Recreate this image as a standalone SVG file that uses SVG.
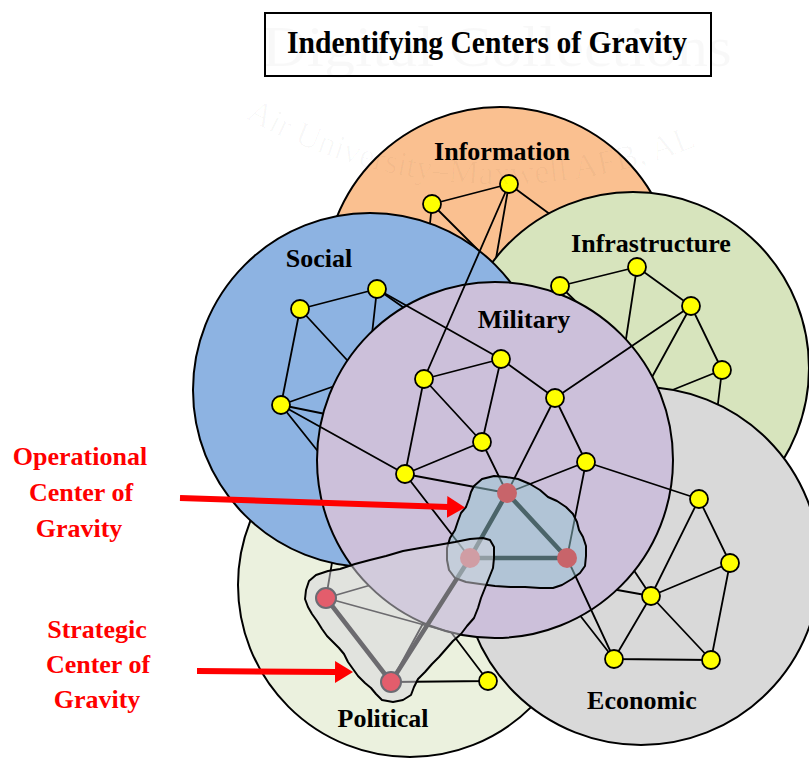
<svg xmlns="http://www.w3.org/2000/svg" width="809" height="760" viewBox="0 0 809 760">
<defs>
<style>
.dom{stroke:#000;stroke-width:2}
.lbl{font-family:"Liberation Serif","Times New Roman",serif;font-weight:bold;font-size:26px;text-anchor:middle;fill:#000}
.red{font-family:"Liberation Serif","Times New Roman",serif;font-weight:bold;font-size:26px;text-anchor:middle;fill:#FF0000}
.e{stroke:#000;stroke-width:1.8;fill:none;stroke-linecap:round}
.thick{stroke:#000;stroke-width:4.5;fill:none;stroke-linecap:round}
.y{fill:#FFFF00;stroke:#000;stroke-width:1.8}
.op{fill:#C8646A}
.st{fill:#E35D6C;stroke:#6B6B73;stroke-width:2}
.arrow{stroke:#FF0000;stroke-width:6;fill:none}
.wm{font-family:"Liberation Serif","Times New Roman",serif;fill:#000;fill-opacity:0.028}
</style>
<marker id="head" markerUnits="userSpaceOnUse" markerWidth="20" markerHeight="24" refX="1" refY="11" orient="auto" viewBox="0 0 20 22"><path d="M0,0 L18,11 L0,22 Z" fill="#FF0000"/></marker>
<path id="wmarc" d="M 245,118 A 522 522 0 0 0 740,126"/>
</defs>
<rect width="809" height="760" fill="#fff"/>

<!-- Information -->
<g id="domain-information">
<circle class="dom" cx="500" cy="283" r="176" fill="#FAC090"/>
<text class="lbl" x="502" y="160">Information</text>
</g>
<g id="connectors-information">
<path class="e" d="M432,204 L509,184 M432,204 L426,262 M432,204 L481,253 M509,184 L494,270 M509,184 L570,229"/>
</g>

<!-- Infrastructure -->
<g id="domain-infrastructure">
<circle class="dom" cx="633" cy="368" r="176" fill="#D7E4BD"/>
<text class="lbl" x="651" y="252">Infrastructure</text>
</g>
<g id="connectors-infrastructure">
<path class="e" d="M560,286 L637,267 M560,286 L600,325 M637,267 L691,306 M637,267 L622,365 M691,306 L722,370 M691,306 L640,399 M722,370 L660,395 M722,370 L716,420"/>
</g>

<!-- Political -->
<g id="domain-political">
<circle class="dom" cx="410" cy="585" r="172" fill="#EBF1DE"/>
<text class="lbl" x="383" y="727">Political</text>
</g>
<g id="connectors-political">
<path class="e" d="M326,598 L335,545 M326,598 L395,578 M391,682 L432,607 M488,681 L435,611 M391,682 L488,681"/>
</g>

<!-- Social -->
<g id="domain-social">
<circle class="dom" cx="370" cy="390" r="177" fill="#8DB3E2"/>
<text class="lbl" x="319" y="267">Social</text>
</g>
<g id="connectors-social">
<path class="e" d="M300,309 L377,289 M300,309 L281,405 M300,309 L370,385 M377,289 L368,370 M377,289 L430,326 M281,405 L360,377 M281,405 L350,419 M281,405 L340,479"/>
</g>

<!-- Economic -->
<g id="domain-economic">
<circle class="dom" cx="641" cy="566" r="179" fill="#D9D9D9"/>
<text class="lbl" x="642" y="709">Economic</text>
</g>
<g id="connectors-economic">
<path class="e" d="M699,499 L730,563 M699,499 L651,596 M730,563 L651,596 M730,563 L711,660 M651,596 L614,659 M651,596 L711,660 M614,659 L711,660 M651,596 L595,586 M651,596 L625,557 M614,659 L568,600"/>
</g>

<!-- Military -->
<g id="domain-military">
<circle class="dom" cx="495" cy="460" r="178" fill="#CCC0DA"/>
<text class="lbl" x="524" y="328">Military</text>
</g>

<!-- Top-level connectors -->
<g id="connectors">
<path class="e" d="M424,379 L501,359 M424,379 L482,442 M424,379 L405,474 M501,359 L482,442 M501,359 L555,398 M555,398 L586,462 M555,398 L507,493 M482,442 L405,474 M482,442 L507,493 M405,474 L507,493 M405,474 L470,558 M586,462 L507,493 M586,462 L567,558"/>
<path class="e" d="M509,184 L424,379 M377,289 L501,359 M281,405 L405,474 M555,398 L691,306 M586,462 L699,499 M567,558 L614,659 M326,598 L450,632"/>
<path class="thick" d="M507,493 L567,558 M507,493 L470,558 M470,558 L567,558"/>
<path class="thick" stroke-width="5" d="M326,598 L391,682 M391,682 L470,558"/>
</g>

<!-- Yellow nodes -->
<g id="node-info-1"><circle class="y" cx="432" cy="204" r="9"/></g>
<g id="node-info-2"><circle class="y" cx="509" cy="184" r="9"/></g>
<g id="node-social-1"><circle class="y" cx="300" cy="309" r="9"/></g>
<g id="node-social-2"><circle class="y" cx="377" cy="289" r="9"/></g>
<g id="node-social-3"><circle class="y" cx="281" cy="405" r="9"/></g>
<g id="node-infra-1"><circle class="y" cx="560" cy="286" r="9"/></g>
<g id="node-infra-2"><circle class="y" cx="637" cy="267" r="9"/></g>
<g id="node-infra-3"><circle class="y" cx="691" cy="306" r="9"/></g>
<g id="node-infra-4"><circle class="y" cx="722" cy="370" r="9"/></g>
<g id="node-mil-1"><circle class="y" cx="424" cy="379" r="9"/></g>
<g id="node-mil-2"><circle class="y" cx="501" cy="359" r="9"/></g>
<g id="node-mil-3"><circle class="y" cx="555" cy="398" r="9"/></g>
<g id="node-mil-4"><circle class="y" cx="482" cy="442" r="9"/></g>
<g id="node-mil-5"><circle class="y" cx="405" cy="474" r="9"/></g>
<g id="node-mil-6"><circle class="y" cx="586" cy="462" r="9"/></g>
<g id="node-eco-1"><circle class="y" cx="699" cy="499" r="9"/></g>
<g id="node-eco-2"><circle class="y" cx="730" cy="563" r="9"/></g>
<g id="node-eco-3"><circle class="y" cx="651" cy="596" r="9"/></g>
<g id="node-eco-4"><circle class="y" cx="614" cy="659" r="9"/></g>
<g id="node-eco-5"><circle class="y" cx="711" cy="660" r="9"/></g>
<g id="node-pol-1"><circle class="y" cx="488" cy="681" r="9"/></g>

<!-- Operational center of gravity -->
<g id="operational-cog">
<path d="M474,486 L482,479 L494,476 L506,477 L518,479 L530,484 L540,490 L548,497 L557,501 L566,507 L573,514 L577,522 L579,530 L583,537 L586,546 L586,556 L585,566 L580,573 L572,579 L562,585 L553,588 L540,588 L525,587 L510,587 L495,586 L480,584 L466,582 L455,578 L449,570 L447,560 L447,548 L450,538 L455,530 L458,521 L461,513 L466,507 L469,499 L471,492 Z" fill="#96C8D2" fill-opacity="0.5" stroke="#000" stroke-width="2" stroke-linejoin="round"/>
</g>
<g id="node-op-1"><circle class="op" cx="507" cy="493" r="10"/></g>
<g id="node-op-2"><circle class="op" cx="567" cy="558" r="10"/></g>
<g id="node-op-3"><circle class="op" cx="470" cy="558" r="10"/></g>

<!-- Strategic center of gravity -->
<g id="strategic-cog">
<path d="M306,590 L309,581 L316,575 L328,571 L340,569 L355,564 L370,560 L386,556 L403,551 L420,548 L438,545 L455,542 L470,539 L483,538 L490,540 L494,547 L494,558 L493,568 L489,578 L485,588 L481,598 L478,608 L474,618 L467,626 L461,634 L453,641 L446,649 L439,657 L432,664 L425,672 L418,679 L414,687 L411,695 L403,700 L393,702 L382,700 L376,694 L371,688 L365,683 L358,676 L353,669 L348,662 L344,654 L339,648 L333,642 L327,636 L322,629 L317,621 L312,614 L308,607 L305,599 Z" fill="#D7D5DE" fill-opacity="0.5" stroke="#000" stroke-width="2" stroke-linejoin="round"/>
</g>
<g id="node-st-1"><circle class="st" cx="326" cy="598" r="10"/></g>
<g id="node-st-2"><circle class="st" cx="391" cy="682" r="10"/></g>

<!-- Arrows and labels -->
<g id="label-operational">
<line class="arrow" x1="180" y1="498" x2="448" y2="507" marker-end="url(#head)"/>
<text class="red" x="80" y="465">Operational</text>
<text class="red" x="81" y="501">Center of</text>
<text class="red" x="79" y="537">Gravity</text>
</g>
<g id="label-strategic">
<line class="arrow" x1="197" y1="671" x2="336" y2="672" marker-end="url(#head)"/>
<text class="red" x="97" y="638">Strategic</text>
<text class="red" x="98" y="673">Center of</text>
<text class="red" x="97" y="708">Gravity</text>
</g>

<!-- Title -->
<g id="title">
<rect x="265" y="13" width="446" height="63" fill="#fff" stroke="#000" stroke-width="2"/>
<text x="487" y="53" font-family="'Liberation Serif','Times New Roman',serif" font-weight="bold" font-size="31" text-anchor="middle" textLength="400" lengthAdjust="spacingAndGlyphs">Indentifying Centers of Gravity</text>
</g>

<!-- Watermark -->
<g id="watermark">
<text class="wm" x="497" y="66" font-size="56" text-anchor="middle" textLength="470" lengthAdjust="spacingAndGlyphs">Digital Collections</text>
<text class="wm" font-size="34"><textPath href="#wmarc">Air University–Maxwell AFB, AL</textPath></text>
</g>
</svg>
